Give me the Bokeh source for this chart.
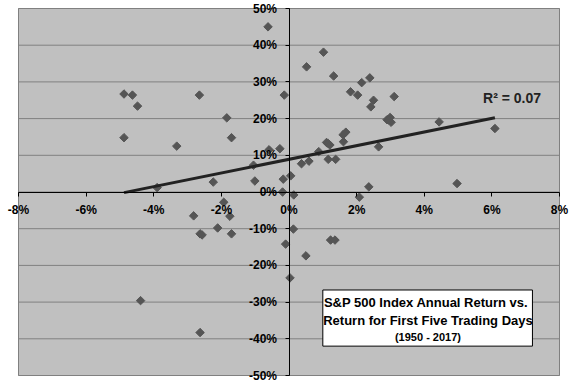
import numpy as np
from bokeh.plotting import figure
from bokeh.models import FixedTicker, Label, BoxAnnotation
from bokeh.embed import file_html
from bokeh.resources import INLINE

# Return for first five trading days (%)
first5 = [-4.88, -4.63, -4.48, -4.88, -3.32, -2.65, -1.84, -1.70, -2.24, -3.90,
          -1.05, -1.01, -0.62, -0.59, -0.27, -0.14, 0.05, -0.17, -0.19, 0.14,
          0.37, 0.59, 0.52, 1.02, 1.32, 0.88, 1.11, 1.16, 1.21, 1.16,
          1.38, 1.61, 1.60, 1.68, 1.82, 2.03, 2.15, 2.39, 2.50, 2.42,
          2.65, 3.11, 2.90, 2.99, 3.02, 2.95, 4.44, 6.09, 4.97, 2.36,
          2.08, -2.82, -2.63, -2.57, -1.93, -1.75, -2.11, -1.70, -4.39, -2.63,
          -0.10, 0.13, 0.03, 0.50, 1.23, 1.36]
# S&P 500 annual return (%)
annual = [26.7, 26.4, 23.4, 14.8, 12.5, 26.4, 20.2, 14.8, 2.7, 1.2,
          7.3, 3.0, 45.0, 11.5, 11.8, 26.4, 4.4, 3.5, 0.0, -0.8,
          7.7, 8.4, 34.1, 38.1, 31.6, 11.0, 13.5, 13.2, 12.8, 8.9,
          8.9, 13.7, 15.6, 16.3, 27.3, 26.4, 29.8, 31.1, 25.0, 23.2,
          12.3, 26.0, 19.7, 20.3, 19.0, 19.6, 19.1, 17.3, 2.3, 1.4,
          -1.4, -6.5, -11.4, -11.7, -2.8, -6.6, -9.8, -11.4, -29.6, -38.3,
          -14.2, -10.1, -23.4, -17.4, -13.1, -13.1]

x_ticks = [-8, -6, -4, -2, 0, 2, 4, 6, 8]
y_ticks = [-50, -40, -30, -20, -10, 0, 10, 20, 30, 40, 50]
x_tick_labels = ["-8%", "-6%", "-4%", "-2%", "0%", "2%", "4%", "6%", "8%"]
y_tick_labels = ["-50%", "-40%", "-30%", "-20%", "-10%", "0%", "10%", "20%", "30%", "40%", "50%"]

trend_slope = 1.86
trend_intercept = 8.9
r2_text = "R² = 0.07"
title_lines = ["S&P 500  Index Annual Return vs.",
               "Return for First Five Trading Days",
               "(1950 - 2017)"]

FONT = "Liberation Sans"
XMIN, XMAX = x_ticks[0], x_ticks[-1]
YMIN, YMAX = y_ticks[0], y_ticks[-1]

# The frame covers the whole canvas (so edge labels are not clipped);
# the grey plot area is drawn as an underlay box over the axis extent.
px_per_x = 541 / (XMAX - XMIN)
px_per_y = 367 / (YMAX - YMIN)
x_range = (XMIN - 18 / px_per_x, XMAX + 17 / px_per_x)
y_range = (YMIN - 9 / px_per_y, YMAX + 8 / px_per_y)

p = figure(width=576, height=384, x_range=x_range, y_range=y_range,
           output_backend="svg", toolbar_location=None,
           min_border=0)
p.background_fill_color = "white"
p.border_fill_color = "white"
p.outline_line_color = None
p.xgrid.visible = False
p.ygrid.visible = False

p.add_layout(BoxAnnotation(left=XMIN, right=XMAX, bottom=YMIN, top=YMAX,
                           fill_color="#C0C0C0", fill_alpha=1.0,
                           line_color="#808080", line_width=1, line_alpha=1.0,
                           level="underlay"))

# horizontal gridlines
p.segment(x0=[XMIN] * len(y_ticks), y0=y_ticks, x1=[XMAX] * len(y_ticks), y1=y_ticks,
          line_color="#808080", line_width=1)

p.xaxis.ticker = FixedTicker(ticks=x_ticks)
p.yaxis.ticker = FixedTicker(ticks=y_ticks)
p.xaxis[0].bounds = (XMIN, XMAX)
p.yaxis[0].bounds = (YMIN, YMAX)
for ax in [p.xaxis[0], p.yaxis[0]]:
    ax.fixed_location = 0
    ax.axis_line_color = "black"
    ax.axis_line_width = 1
    ax.major_tick_line_color = "black"
    ax.major_tick_out = 4
    ax.major_tick_in = 0
    ax.minor_tick_line_color = None
    ax.major_label_text_alpha = 0

for t, lab in zip(x_ticks, x_tick_labels):
    p.add_layout(Label(x=t, y=0, text=lab, text_font=FONT, text_font_style="bold",
                       text_font_size="12px", text_color="black",
                       text_align="center", text_baseline="top", y_offset=-11))
for t, lab in zip(y_ticks, y_tick_labels):
    p.add_layout(Label(x=0, y=t, text=lab, text_font=FONT, text_font_style="bold",
                       text_font_size="12px", text_color="black",
                       text_align="right", text_baseline="middle", x_offset=-12))

p.scatter(first5, annual, marker="square", angle=np.pi / 4, size=6,
          fill_color="#555555", line_color="#555555")

xs = np.array([min(first5), max(first5)])
p.line(xs, trend_slope * xs + trend_intercept, line_color="#222222", line_width=3)

p.add_layout(Label(x=5.74, y=25.6, text=r2_text, text_font=FONT,
                   text_font_style="bold", text_font_size="14px",
                   text_color="#222222", text_baseline="middle"))

p.add_layout(BoxAnnotation(left=1.0, right=7.2, top=-26.7, bottom=-42.0,
                           fill_color="white", fill_alpha=1.0,
                           line_color="black", line_width=1, line_alpha=1.0))
for txt, yy, fs in zip(title_lines, [-30.2, -34.9, -39.5], ["13px", "13px", "11px"]):
    p.add_layout(Label(x=4.11, y=yy, text=txt, text_font=FONT,
                       text_font_style="bold", text_font_size=fs,
                       text_color="black", text_align="center",
                       text_baseline="middle"))

open("out.html", "w").write(file_html(p, INLINE))
